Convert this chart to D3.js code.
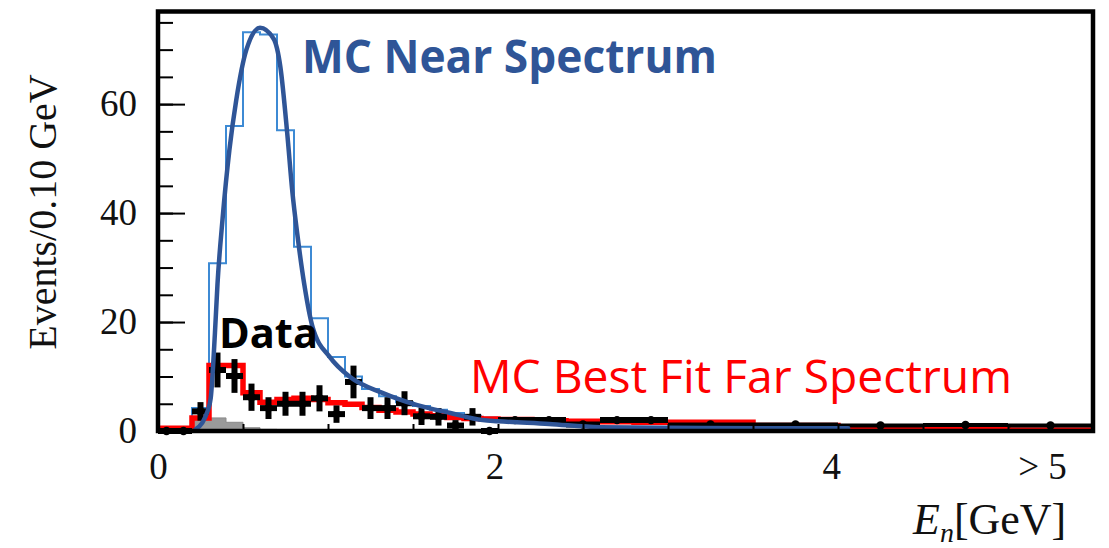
<!DOCTYPE html>
<html>
<head>
<meta charset="utf-8">
<script src="https://cdn.jsdelivr.net/npm/d3@7"></script>
<style>
  body { margin: 0; background: #fff; }
  svg { display: block; }
  .serif { font-family: "Liberation Serif", "Times New Roman", serif; }
</style>
</head>
<body>
<div id="chart"></div>
<script>
// MC near spectrum histogram (0.1 GeV bins from 0.2 to 2.0)
const nearEdges = [0.2, 0.3, 0.4, 0.5, 0.6, 0.7, 0.8, 0.9, 1.0, 1.1, 1.2, 1.3, 1.4, 1.5, 1.6, 1.7, 1.8, 1.9, 2.0];
const nearValues = [4.2, 30.8, 56, 73.2, 72.8, 55.2, 33.8, 20.7, 13.6, 10.0, 7.7, 6.4, 5.3, 4.6, 3.9, 3.3, 2.8, 2.5];

// MC best fit far spectrum
const farEdges = [0, 0.1, 0.2, 0.3, 0.4, 0.5, 0.6, 0.7, 0.8, 0.9, 1.0, 1.1, 1.2, 1.3, 1.4, 1.5, 1.6, 1.7, 1.8, 1.9, 2.0,
  2.2, 2.4, 2.6, 2.8, 3.0, 3.5, 4.0, 4.5, 5.0, 5.5];
const farValues = [0.5, 0.5, 2.4, 12, 12, 7.0, 5.3, 5.8, 6.0, 5.8, 5.2, 4.9, 4.3, 3.8, 3.5, 3.1, 2.8, 2.5, 2.3, 2.2,
  2.1, 1.9, 1.8, 1.7, 1.6, 1.6, 1.0, 0.8, 0.3, 0.2];

// background (grey filled)
const bkgEdges = [0.2, 0.3, 0.4, 0.5, 0.6, 0.7];
const bkgValues = [2.4, 2.4, 1.6, 0.6, 0.3];

// data points
const dataX = [0.05, 0.15, 0.25, 0.35, 0.45, 0.55, 0.65, 0.75, 0.85, 0.95, 1.05, 1.15, 1.25, 1.35, 1.45, 1.55, 1.65, 1.75, 1.85, 1.95,
  2.1, 2.3, 2.5, 2.7, 2.9, 3.25, 3.75, 4.25, 4.75, 5.25];
const dataY = [0, 0, 3.6, 11.2, 10.1, 6.2, 4.2, 5.0, 5.0, 6.0, 3.1, 9.0, 4.2, 4.2, 5.1, 2.7, 2.6, 1.0, 2.6, 0,
  2.0, 2.0, 1.2, 2.0, 2.0, 1.2, 1.2, 1.0, 1.1, 1.0];
const dataYErr = [0, 0, 1.7, 3.2, 3.1, 2.5, 2.0, 2.2, 2.2, 2.4, 1.6, 3.0, 2.0, 2.0, 2.2, 1.6, 1.6, 1.0, 1.6, 0,
  0.3, 0.3, 0.3, 0.3, 0.3, 0.2, 0.2, 0.2, 0.2, 0.2];
const dataXErr = [0.05, 0.05, 0.05, 0.05, 0.05, 0.05, 0.05, 0.05, 0.05, 0.05, 0.05, 0.05, 0.05, 0.05, 0.05, 0.05, 0.05, 0.05, 0.05, 0.05,
  0.1, 0.1, 0.1, 0.1, 0.1, 0.25, 0.25, 0.25, 0.25, 0.25];

// smooth near spectrum curve
const curveX = [0.22, 0.26, 0.29, 0.31, 0.335, 0.35, 0.38, 0.42, 0.46, 0.52, 0.6, 0.68, 0.72, 0.76, 0.79, 0.82, 0.86, 0.91,
  1.01, 1.13, 1.32, 1.52, 1.72, 1.91, 2.0, 2.3, 2.6, 3.2, 4.06];
const curveY = [0.3, 1.5, 3.5, 6, 18, 27, 39, 51.6, 60.7, 70, 74, 72, 66.8, 54.7, 44, 36, 27, 19,
  13.6, 9.9, 7.0, 4.8, 3.3, 2.0, 1.8, 1.3, 0.7, 0.55, 0.5];

const yMajor = [0, 20, 40, 60];
const yMinor = d3.range(0, 80, 5);
const xTicks = [0.5, 1, 1.5, 2, 2.5, 3, 3.5, 4, 4.5, 5];
const xLabelPos = [0, 1.98, 3.96, 5.2];
const xLabelText = ["0", "2", "4", "> 5"];

const W = 1109, H = 548;
const margin = { left: 158, top: 11.5, right: 16, bottom: 117 };
const width = W - margin.left - margin.right;
const height = H - margin.top - margin.bottom;

const svg = d3.select("#chart").append("svg")
  .attr("width", W).attr("height", H);
const g = svg.append("g").attr("transform", `translate(${margin.left},${margin.top})`);

const x = d3.scaleLinear().domain([0, 5.5]).range([0, width]);
const y = d3.scaleLinear().domain([0, 77]).range([height, 0]);

// turn edges + values into step points
const steps = (edges, values, startAtZero) => {
  const pts = [];
  if (startAtZero) pts.push([edges[0], 0]);
  values.forEach((v, i) => {
    pts.push([edges[i], v]);
    pts.push([edges[i + 1], v]);
  });
  return pts;
};

const line = d3.line().x(d => x(d[0])).y(d => y(d[1]));

// background grey
g.append("path")
  .datum(steps(bkgEdges, bkgValues, true).concat([[bkgEdges[bkgEdges.length - 1], 0]]))
  .attr("d", line)
  .attr("fill", "#9a9a9a")
  .attr("stroke", "#8a8a8a")
  .attr("stroke-width", 1);

// near MC histogram
g.append("path")
  .datum(steps(nearEdges, nearValues, true))
  .attr("d", line)
  .attr("fill", "none")
  .attr("stroke", "#3d8ad4")
  .attr("stroke-width", 2);

// far MC best fit
g.append("path")
  .datum(steps(farEdges, farValues, false))
  .attr("d", line)
  .attr("fill", "none")
  .attr("stroke", "#ff0000")
  .attr("stroke-width", 5.5);

// data error bars
const pts = dataX.map((d, i) => ({ x: d, y: dataY[i], ey: dataYErr[i], ex: dataXErr[i] }));
const dataG = g.append("g");
dataG.selectAll(".xerr").data(pts).join("line")
  .attr("class", "xerr")
  .attr("x1", d => x(d.x - d.ex)).attr("x2", d => x(d.x + d.ex))
  .attr("y1", d => y(d.y)).attr("y2", d => y(d.y))
  .attr("stroke", "#000").attr("stroke-width", d => d.ex > 0.2 ? 4 : 6);
dataG.selectAll(".yerr").data(pts.filter(d => d.ey > 0)).join("line")
  .attr("class", "yerr")
  .attr("x1", d => x(d.x)).attr("x2", d => x(d.x))
  .attr("y1", d => y(d.y - d.ey)).attr("y2", d => y(d.y + d.ey))
  .attr("stroke", "#000").attr("stroke-width", 6);
dataG.selectAll("circle").data(pts).join("circle")
  .attr("cx", d => x(d.x)).attr("cy", d => y(d.y))
  .attr("r", 4.2).attr("fill", "#000");

// near spectrum curve
g.append("path")
  .datum(curveX.map((d, i) => [d, curveY[i]]))
  .attr("d", line.curve(d3.curveMonotoneX))
  .attr("fill", "none")
  .attr("stroke", "#2f5597")
  .attr("stroke-width", 4.5)
  .attr("stroke-linecap", "round");

// axes: ticks drawn inside the frame
g.append("g").attr("class", "serif")
  .call(d3.axisLeft(y).tickValues(yMinor).tickSize(-15).tickFormat(""))
  .call(a => a.select(".domain").remove())
  .call(a => a.selectAll("line").attr("stroke-width", 2));
g.append("g").attr("class", "serif")
  .call(d3.axisLeft(y).tickValues(yMajor).tickSize(-27).tickPadding(21))
  .call(a => a.select(".domain").remove())
  .call(a => a.selectAll("line").attr("stroke-width", 2))
  .call(a => a.selectAll("text").attr("font-size", 37).attr("font-family", "Liberation Serif").attr("fill", "#111"));

g.append("g").attr("transform", `translate(0,${height})`)
  .call(d3.axisBottom(x).tickValues(xTicks).tickSize(-7).tickFormat(""))
  .call(a => a.select(".domain").remove())
  .call(a => a.selectAll("line").attr("stroke-width", 2));
g.append("g").attr("transform", `translate(0,${height})`)
  .call(d3.axisBottom(x).tickValues(xLabelPos).tickSize(0).tickPadding(22).tickFormat((d, i) => xLabelText[i]))
  .call(a => a.select(".domain").remove())
  .call(a => a.selectAll("text").attr("font-size", 37).attr("font-family", "Liberation Serif").attr("fill", "#111"));

// frame
g.append("rect")
  .attr("width", width).attr("height", height)
  .attr("fill", "none").attr("stroke", "#000").attr("stroke-width", 4.5);

// axis titles
svg.append("text")
  .attr("class", "serif")
  .attr("transform", "translate(56,212) rotate(-90)")
  .attr("text-anchor", "middle")
  .attr("font-size", 40)
  .attr("fill", "#111")
  .text("Events/0.10 GeV");

const xt = svg.append("text")
  .attr("class", "serif")
  .attr("x", 913).attr("y", 534)
  .attr("font-size", 44)
  .attr("fill", "#111");
xt.append("tspan").attr("font-style", "italic").text("E");
xt.append("tspan").attr("font-style", "italic").attr("font-size", 28).attr("dy", 8).text("n");
xt.append("tspan").attr("dy", -8).text("[GeV]");

// annotations
svg.append("text")
  .attr("x", 302).attr("y", 73)
  .attr("font-family", "Open Sans").attr("font-weight", 700).attr("font-size", 47)
  .attr("textLength", 415).attr("lengthAdjust", "spacingAndGlyphs")
  .attr("fill", "#2f5597")
  .text("MC Near Spectrum");
svg.append("text")
  .attr("x", 219).attr("y", 348)
  .attr("font-family", "Open Sans").attr("font-weight", 700).attr("font-size", 41)
  .attr("textLength", 99).attr("lengthAdjust", "spacingAndGlyphs")
  .attr("fill", "#000")
  .text("Data");
svg.append("text")
  .attr("x", 470).attr("y", 393)
  .attr("font-family", "Open Sans").attr("font-size", 45)
  .attr("textLength", 542).attr("lengthAdjust", "spacingAndGlyphs")
  .attr("fill", "#ff0000")
  .text("MC Best Fit Far Spectrum");
</script>
</body>
</html>
